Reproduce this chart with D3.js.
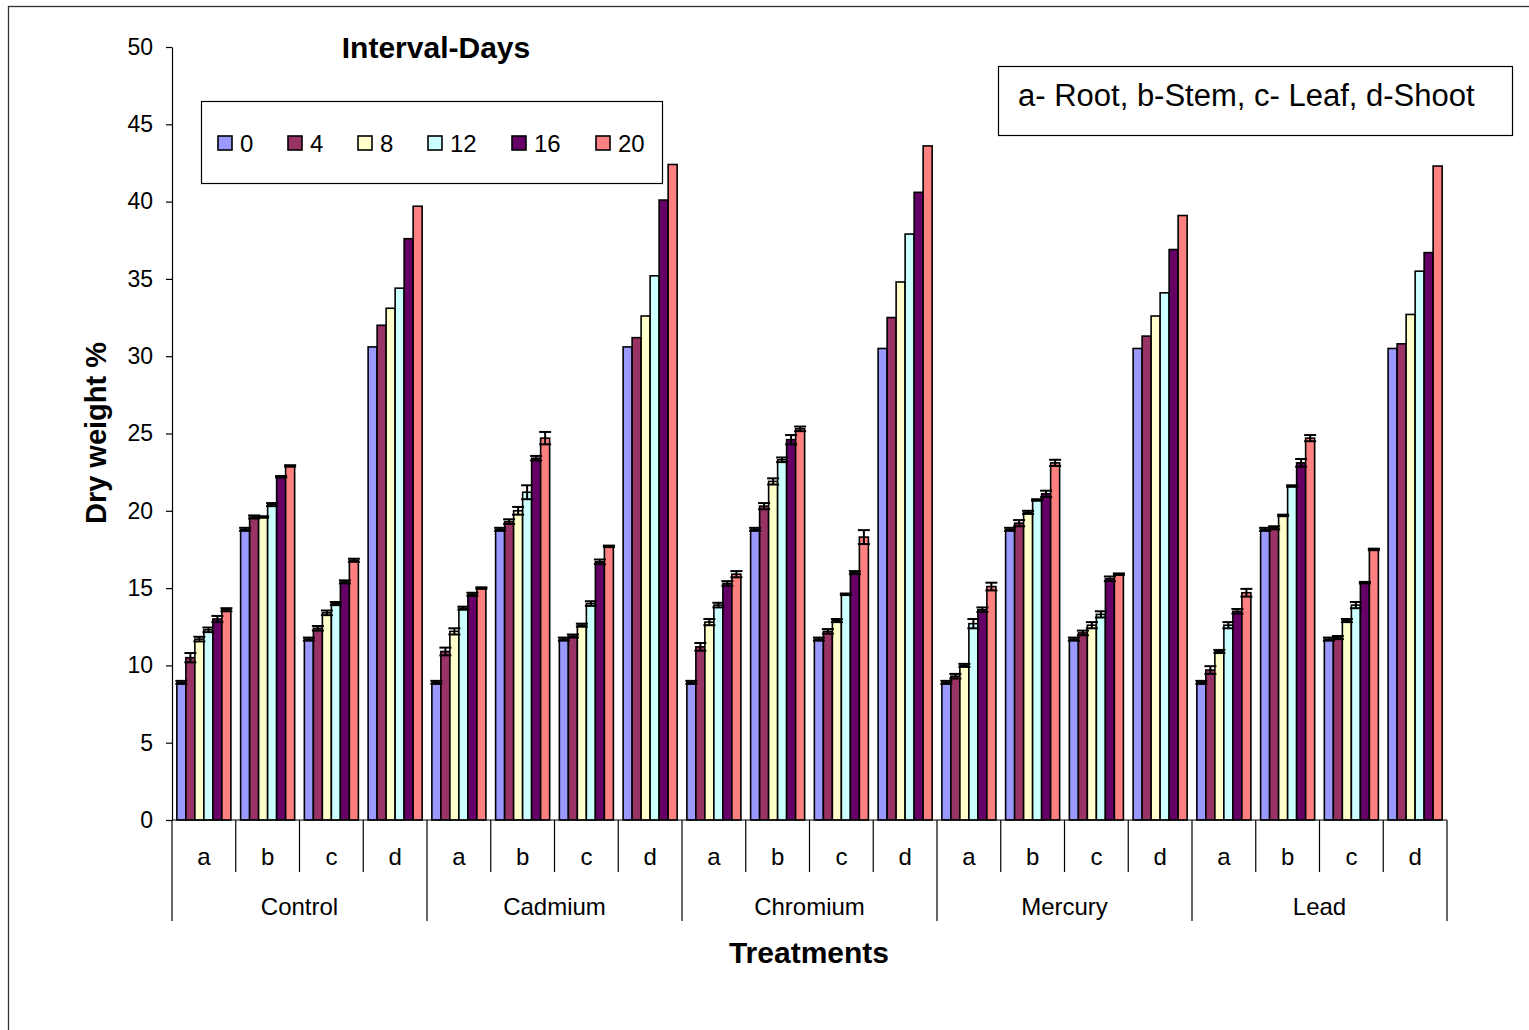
<!DOCTYPE html>
<html>
<head>
<meta charset="utf-8">
<script src="https://cdn.jsdelivr.net/npm/d3@7"></script>
<style>
  html, body { margin: 0; padding: 0; background: #fff; }
  svg { display: block; font-family: "Liberation Sans", Arial, sans-serif; }
</style>
</head>
<body>
<svg id="chart" width="1529" height="1030"></svg>
<script>
// ---- data ----
const treatments = ["Control", "Cadmium", "Chromium", "Mercury", "Lead"];
const parts = ["a", "b", "c", "d"];
const seriesNames = ["0", "4", "8", "12", "16", "20"];
const seriesColors = ["#9999FF", "#993366", "#FFFFCC", "#CCFFFF", "#660066", "#FF8080"];
const yTicks = [0, 5, 10, 15, 20, 25, 30, 35, 40, 45, 50];

// values in order Control a,b,c,d, Cadmium a,b,c,d, ...
const day0  = [8.9, 18.8, 11.7, 30.6,  8.9, 18.8, 11.7, 30.6,  8.9, 18.8, 11.7, 30.5,  8.9, 18.8, 11.7, 30.5,  8.9, 18.8, 11.7, 30.5];
const day4  = [10.5, 19.6, 12.4, 32.0, 10.9, 19.3, 11.9, 31.2, 11.2, 20.3, 12.2, 32.5,  9.3, 19.2, 12.1, 31.3,  9.7, 18.9, 11.8, 30.8];
const day8  = [11.7, 19.6, 13.4, 33.1, 12.2, 20.0, 12.6, 32.6, 12.8, 21.9, 12.9, 34.8, 10.0, 19.9, 12.6, 32.6, 10.9, 19.7, 12.9, 32.7];
const day12 = [12.3, 20.4, 14.0, 34.4, 13.7, 21.2, 14.0, 35.2, 13.9, 23.3, 14.6, 37.9, 12.7, 20.7, 13.3, 34.1, 12.6, 21.6, 13.9, 35.5];
const day16 = [13.0, 22.2, 15.4, 37.6, 14.6, 23.4, 16.7, 40.1, 15.3, 24.6, 16.0, 40.6, 13.6, 21.1, 15.6, 36.9, 13.5, 23.1, 15.35, 36.7];
const day20 = [13.6, 22.9, 16.8, 39.7, 15.0, 24.7, 17.7, 42.4, 15.9, 25.3, 18.3, 43.6, 15.1, 23.1, 15.9, 39.1, 14.7, 24.7, 17.5, 42.3];

// error (+/-) values, same order
const err0  = [0.1, 0.1, 0.1, 0,  0.1, 0.1, 0.1, 0,  0.1, 0.1, 0.1, 0,  0.1, 0.1, 0.1, 0,  0.1, 0.1, 0.1, 0];
const err4  = [0.3, 0.1, 0.15, 0, 0.25, 0.15, 0.1, 0, 0.25, 0.2, 0.15, 0, 0.15, 0.2, 0.15, 0, 0.25, 0.1, 0.1, 0];
const err8  = [0.15, 0.05, 0.15, 0, 0.2, 0.25, 0.1, 0, 0.2, 0.2, 0.1, 0, 0.1, 0.1, 0.2, 0, 0.1, 0.05, 0.1, 0];
const err12 = [0.15, 0.1, 0.1, 0, 0.1, 0.45, 0.15, 0, 0.15, 0.15, 0.05, 0, 0.3, 0.05, 0.2, 0, 0.2, 0.05, 0.2, 0];
const err16 = [0.2, 0.05, 0.1, 0, 0.1, 0.15, 0.15, 0, 0.15, 0.3, 0.1, 0, 0.15, 0.2, 0.15, 0, 0.15, 0.25, 0.05, 0];
const err20 = [0.1, 0.05, 0.1, 0, 0.05, 0.4, 0.05, 0, 0.2, 0.15, 0.45, 0, 0.25, 0.2, 0.05, 0, 0.25, 0.2, 0.05, 0];

const seriesValues = [day0, day4, day8, day12, day16, day20];
const seriesErrors = [err0, err4, err8, err12, err16, err20];

// ---- layout ----
const svg = d3.select("#chart");
const plotLeft = 172, plotRight = 1447, plotTop = 47, plotBottom = 820;
const font = "'Liberation Sans', Arial, sans-serif";

// outer frame
svg.append("rect").attr("x", 8.5).attr("y", 6.5).attr("width", 1540).attr("height", 1040)
  .attr("fill", "#fff").attr("stroke", "#333").attr("stroke-width", 1.3);

const y = d3.scaleLinear().domain([0, 50]).range([plotBottom, plotTop]);

const groups = [];
treatments.forEach(t => parts.forEach(p => groups.push(t + "|" + p)));

const xT = d3.scaleBand().domain(treatments).range([plotLeft, plotRight]).padding(0);
const xG = d3.scaleBand().domain(groups).range([plotLeft, plotRight]).padding(0);
const xS = d3.scaleBand().domain(seriesNames).range([0, xG.bandwidth()]).paddingInner(0).paddingOuter(0.54);

// y axis
const yAxis = d3.axisLeft(y).tickValues(yTicks).tickSize(6).tickPadding(13).tickSizeOuter(0);
const gy = svg.append("g").attr("transform", `translate(${plotLeft},0)`).call(yAxis);
gy.select(".domain").attr("stroke", "#000").attr("stroke-width", 1.2);
gy.selectAll(".tick line").attr("stroke", "#000").attr("stroke-width", 1.2);
gy.selectAll(".tick text").attr("font-size", 23).attr("font-family", font).attr("fill", "#000");

// bars
const barData = [];
seriesValues.forEach((arr, si) => {
  arr.forEach((v, gi) => barData.push({ s: seriesNames[si], si, g: groups[gi], v, e: seriesErrors[si][gi] }));
});

svg.append("g").selectAll("rect").data(barData).join("rect")
  .attr("x", d => xG(d.g) + xS(d.s))
  .attr("y", d => y(d.v))
  .attr("width", xS.bandwidth())
  .attr("height", d => y(0) - y(d.v))
  .attr("fill", d => seriesColors[d.si])
  .attr("stroke", "#000").attr("stroke-width", 1.6);

// error bars
const eg = svg.append("g").attr("stroke", "#000").attr("stroke-width", 2);
barData.filter(d => d.e > 0).forEach(d => {
  const cx = xG(d.g) + xS(d.s) + xS.bandwidth() / 2;
  const y1 = y(d.v + d.e), y2 = y(d.v - d.e);
  eg.append("line").attr("x1", cx).attr("x2", cx).attr("y1", y1).attr("y2", y2);
  eg.append("line").attr("x1", cx - 6).attr("x2", cx + 6).attr("y1", y1).attr("y2", y1);
  eg.append("line").attr("x1", cx - 6).attr("x2", cx + 6).attr("y1", y2).attr("y2", y2);
});

// x baseline
svg.append("line").attr("x1", plotLeft).attr("x2", plotRight).attr("y1", plotBottom).attr("y2", plotBottom)
  .attr("stroke", "#000").attr("stroke-width", 1.2);

// category axes (two levels)
const xl = svg.append("g");
groups.forEach((g, i) => {
  const x0 = xG(g);
  const isTreatStart = i % parts.length === 0;
  xl.append("line").attr("x1", x0).attr("x2", x0).attr("y1", plotBottom).attr("y2", isTreatStart ? 921 : 872)
    .attr("stroke", "#000").attr("stroke-width", 1.2);
  xl.append("text").attr("x", x0 + xG.bandwidth() / 2).attr("y", 865)
    .attr("text-anchor", "middle").attr("font-size", 24).attr("font-family", font).text(g.split("|")[1]);
});
xl.append("line").attr("x1", plotRight).attr("x2", plotRight).attr("y1", plotBottom).attr("y2", 921)
  .attr("stroke", "#000").attr("stroke-width", 1.2);
treatments.forEach(t => {
  xl.append("text").attr("x", xT(t) + xT.bandwidth() / 2).attr("y", 915)
    .attr("text-anchor", "middle").attr("font-size", 24).attr("font-family", font).text(t);
});

// axis titles
svg.append("text").attr("x", 809).attr("y", 963).attr("text-anchor", "middle")
  .attr("font-size", 30).attr("font-weight", "bold").attr("font-family", font).text("Treatments");
svg.append("text").attr("transform", "translate(106,433) rotate(-90)").attr("text-anchor", "middle")
  .attr("font-size", 29).attr("font-weight", "bold").attr("font-family", font).text("Dry weight %");
svg.append("text").attr("x", 436).attr("y", 58).attr("text-anchor", "middle")
  .attr("font-size", 30).attr("font-weight", "bold").attr("font-family", font).text("Interval-Days");

// legend
const lg = svg.append("g");
lg.append("rect").attr("x", 201.5).attr("y", 101.5).attr("width", 461).attr("height", 82)
  .attr("fill", "#fff").attr("stroke", "#000").attr("stroke-width", 1.2);
const legendX = [218, 288, 358, 428, 512, 596];
seriesNames.forEach((s, i) => {
  lg.append("rect").attr("x", legendX[i]).attr("y", 136).attr("width", 14).attr("height", 14)
    .attr("fill", seriesColors[i]).attr("stroke", "#000").attr("stroke-width", 1.6);
  lg.append("text").attr("x", legendX[i] + 22).attr("y", 152).attr("font-size", 24)
    .attr("font-family", font).text(s);
});

// note box
svg.append("rect").attr("x", 998.5).attr("y", 66.5).attr("width", 514).attr("height", 69)
  .attr("fill", "#fff").attr("stroke", "#000").attr("stroke-width", 1.2);
svg.append("text").attr("x", 1018).attr("y", 106).attr("font-size", 31).attr("font-family", font)
  .text("a- Root, b-Stem, c- Leaf, d-Shoot");
</script>
</body>
</html>
